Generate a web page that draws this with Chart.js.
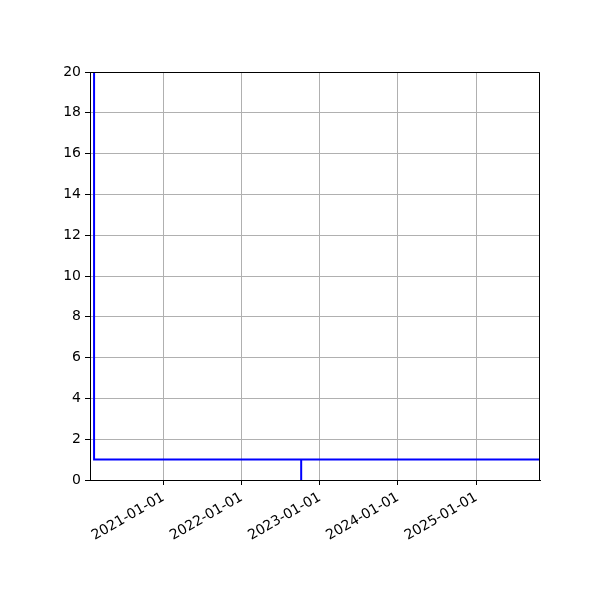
<!DOCTYPE html>
<html>
<head>
<meta charset="utf-8">
<script src="https://cdn.jsdelivr.net/npm/chart.js@4/dist/chart.umd.min.js"></script>
<style>
  html, body { margin: 0; padding: 0; background: #fff; }
  #wrap { width: 600px; height: 600px; }
</style>
</head>
<body>
<div id="wrap"><canvas id="stepChart" width="600" height="600"></canvas></div>
<script>
// series (dates + values)
const dates = ['2020-02-12', '2020-02-12', '2022-10-06', '2022-10-06', '2022-10-06', '2025-10-25'];
const values = [30, 1, 1, 0, 1, 1];

// axis settings
const xMinDate = '2020-01-24';
const xMaxDate = '2025-10-25';
const xTickDates = ['2021-01-01', '2022-01-01', '2023-01-01', '2024-01-01', '2025-01-01'];
const yTicks = [0, 2, 4, 6, 8, 10, 12, 14, 16, 18, 20];

const toMs = d => Date.parse(d + 'T00:00:00Z');
const points = dates.map((d, i) => ({ x: toMs(d), y: values[i] }));

function fmtDate(ms) {
  const dt = new Date(ms);
  const m = String(dt.getUTCMonth() + 1).padStart(2, '0');
  const day = String(dt.getUTCDate()).padStart(2, '0');
  return dt.getUTCFullYear() + '-' + m + '-' + day;
}

// top and right spines (left/bottom come from the axis borders)
const framePlugin = {
  id: 'frame',
  afterDraw(chart) {
    const a = chart.chartArea;
    const c = chart.ctx;
    c.save();
    c.strokeStyle = '#000';
    c.lineWidth = 1;
    c.beginPath();
    c.moveTo(a.left, Math.round(a.top) + 0.5);
    c.lineTo(Math.round(a.right) - 0.5, Math.round(a.top) + 0.5);
    c.lineTo(Math.round(a.right) - 0.5, a.bottom);
    c.stroke();
    c.restore();
  }
};

const fontSpec = { family: 'DejaVu Sans', size: 14 };

new Chart(document.getElementById('stepChart'), {
  type: 'line',
  data: {
    datasets: [{
      data: points,
      borderColor: '#0000ff',
      borderWidth: 2,
      pointRadius: 0,
      fill: false,
      tension: 0,
      clip: 0
    }]
  },
  options: {
    responsive: false,
    animation: false,
    layout: { padding: { top: 72, right: 60, left: 0, bottom: 0 } },
    plugins: {
      legend: { display: false },
      tooltip: { enabled: false }
    },
    scales: {
      x: {
        type: 'linear',
        min: toMs(xMinDate),
        max: toMs(xMaxDate),
        afterBuildTicks(scale) {
          scale.ticks = xTickDates.map(d => ({ value: toMs(d) }));
        },
        afterFit(scale) { scale.height = 120; },
        grid: { color: '#b0b0b0', lineWidth: 1, tickColor: '#000', tickLength: 5 },
        border: { color: '#000', width: 1 },
        ticks: {
          color: '#000',
          font: fontSpec,
          autoSkip: false,
          minRotation: 30,
          maxRotation: 30,
          padding: 4,
          callback: v => fmtDate(v)
        }
      },
      y: {
        min: 0,
        max: 20,
        afterBuildTicks(scale) {
          scale.ticks = yTicks.map(v => ({ value: v }));
        },
        afterFit(scale) { scale.width = 90; },
        grid: { color: '#b0b0b0', lineWidth: 1, tickColor: '#000', tickLength: 5 },
        border: { color: '#000', width: 1 },
        ticks: { color: '#000', font: fontSpec, padding: 4 }
      }
    }
  },
  plugins: [framePlugin]
});
</script>
</body>
</html>
